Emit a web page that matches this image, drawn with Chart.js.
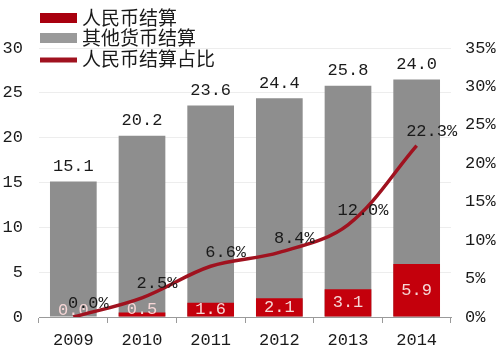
<!DOCTYPE html>
<html>
<head>
<meta charset="utf-8">
<script src="https://cdn.jsdelivr.net/npm/chart.js@4.4.1/dist/chart.umd.min.js"></script>
<style>
  html, body { margin: 0; padding: 0; background: #fff; }
  #wrap { width: 500px; height: 363px; position: relative; }
</style>
</head>
<body>
<div id="wrap"><canvas id="chart"></canvas></div>
<script>
// Settlement by year (trillion), RMB share of total
const years = ['2009', '2010', '2011', '2012', '2013', '2014'];
const rmbValues = [0.0, 0.5, 1.6, 2.1, 3.1, 5.9];
const totalValues = [15.1, 20.2, 23.6, 24.4, 25.8, 26.5];
const totalLabels = ['15.1', '20.2', '23.6', '24.4', '25.8', '24.0'];
const shareValues = [0.0, 2.5, 6.6, 8.4, 12.0, 22.3];
const seriesNames = ['人民币结算', '其他货币结算', '人民币结算占比'];

const RED = '#c4000c';
const LINE_RED = '#a0121f';
const GRAY = '#8e8e8e';
const MONO = '"Liberation Mono", "DejaVu Sans Mono", monospace';
const CJK = '"Noto Sans CJK SC", sans-serif';

/**
 * Draws value labels on bars and line, plus the legend in the top-left
 */
const labelPlugin = {
    id: 'labels',
    // RMB values go inside the red bars, under the line
    afterDatasetDraw(chart, args) {
        if (args.index !== 0) return;
        const ctx = chart.ctx;
        ctx.save();
        ctx.font = '17px ' + MONO;
        ctx.textAlign = 'center';
        ctx.textBaseline = 'middle';
        args.meta.data.forEach((bar, i) => {
            const y = Math.min((bar.y + bar.base) / 2, bar.base - 7);
            ctx.fillStyle = '#f6d6d6';
            ctx.fillText(rmbValues[i].toFixed(1), bar.x, y);
        });
        ctx.restore();
    },
    afterDatasetsDraw(chart) {
        const ctx = chart.ctx;
        ctx.save();
        ctx.font = '17px ' + MONO;
        ctx.textAlign = 'center';
        ctx.textBaseline = 'middle';

        // Totals above the gray bars
        const grayMeta = chart.getDatasetMeta(1);
        grayMeta.data.forEach((bar, i) => {
            ctx.fillStyle = '#1a1a1a';
            ctx.fillText(totalLabels[i], bar.x, bar.y - 15);
        });

        // Share labels next to line points
        const lineMeta = chart.getDatasetMeta(2);
        lineMeta.data.forEach((pt, i) => {
            ctx.fillStyle = '#1a1a1a';
            ctx.fillText(shareValues[i].toFixed(1) + '%', pt.x + 15, pt.y - 14);
        });

        // Legend
        const rows = [18, 38, 59];
        ctx.textAlign = 'left';
        ctx.font = '19px ' + CJK;
        chart.data.datasets.forEach((ds, i) => {
            const y = rows[i];
            if (ds.type === 'line') {
                ctx.strokeStyle = LINE_RED;
                ctx.lineWidth = 5;
                ctx.beginPath();
                ctx.moveTo(40, y + 1);
                ctx.lineTo(77, y + 1);
                ctx.stroke();
            } else {
                ctx.fillStyle = i === 0 ? '#a8000e' : '#9a9a9a';
                ctx.fillRect(40, y - 5, 37, 10);
            }
            ctx.fillStyle = '#1a1a1a';
            ctx.fillText(seriesNames[i], 82, y);
        });
        ctx.restore();
    }
};

new Chart(document.getElementById('chart'), {
    type: 'bar',
    data: {
        labels: years,
        datasets: [
            {
                label: seriesNames[0],
                data: rmbValues,
                backgroundColor: RED,
                yAxisID: 'y',
                order: 1,
                barPercentage: 0.68,
                categoryPercentage: 1
            },
            {
                label: seriesNames[1],
                data: totalValues,
                backgroundColor: GRAY,
                yAxisID: 'y',
                order: 2,
                barPercentage: 0.68,
                categoryPercentage: 1
            },
            {
                type: 'line',
                label: seriesNames[2],
                data: shareValues,
                borderColor: LINE_RED,
                borderWidth: 3.5,
                tension: 0.35,
                pointRadius: 0,
                yAxisID: 'y1',
                order: 0
            }
        ]
    },
    options: {
        responsive: true,
        maintainAspectRatio: false,
        animation: false,
        layout: { padding: { top: 48, left: 0, right: 0, bottom: 0 } },
        plugins: {
            legend: { display: false },
            tooltip: { enabled: false }
        },
        scales: {
            x: {
                stacked: true,
                afterFit: (s) => { s.height = 46; },
                border: { color: '#9a9a9a' },
                grid: {
                    offset: true,
                    drawOnChartArea: false,
                    tickLength: 6,
                    color: '#9a9a9a'
                },
                ticks: {
                    padding: 7,
                    color: '#1a1a1a',
                    font: { family: MONO, size: 17 }
                }
            },
            y: {
                position: 'left',
                stacked: false,
                min: 0,
                max: 30,
                afterFit: (s) => { s.width = 39; },
                border: { display: false },
                grid: { color: '#ededed', drawTicks: false },
                ticks: {
                    stepSize: 5,
                    padding: 16,
                    color: '#1a1a1a',
                    font: { family: MONO, size: 17 }
                }
            },
            y1: {
                position: 'right',
                min: 0,
                max: 35,
                afterFit: (s) => { s.width = 49; },
                border: { display: false },
                grid: { display: false, drawTicks: false },
                ticks: {
                    stepSize: 5,
                    padding: 14,
                    color: '#1a1a1a',
                    font: { family: MONO, size: 17 },
                    callback: (v) => v + '%'
                }
            }
        }
    },
    plugins: [labelPlugin]
});
</script>
</body>
</html>
